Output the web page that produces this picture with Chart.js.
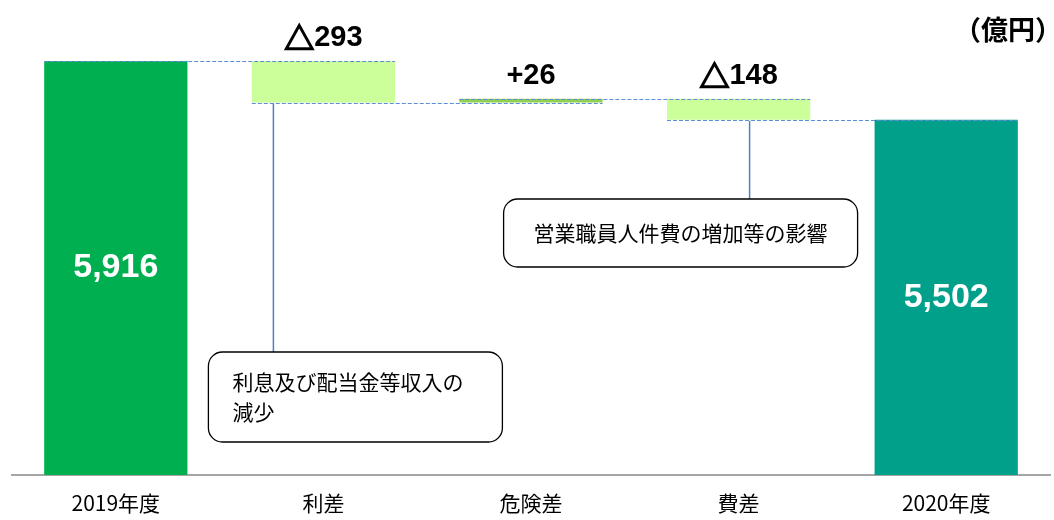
<!DOCTYPE html>
<html>
<head>
<meta charset="utf-8">
<script src="https://cdn.jsdelivr.net/npm/chart.js@4/dist/chart.umd.min.js"></script>
<style>
  html, body { margin: 0; padding: 0; background: #fff; }
  #wrap { width: 1054px; height: 520px; }
</style>
</head>
<body>
<div id="wrap"><canvas id="waterfall"></canvas></div>
<script>
// data (億円)
const categories = ['2019年度', '利差', '危険差', '費差', '2020年度'];
const values = [5916, -293, 26, -148, 5502];
const kinds = ['total', 'delta', 'delta', 'delta', 'total'];
const valueLabels = ['5,916', '△293', '+26', '△148', '5,502'];
const barColors = ['#00B050', '#CCFF99', '#92D050', '#CCFF99', '#00A08A'];
const axisMin = 3000;
const axisMax = 6000;

const notes = [
  { bar: 1, lines: ['利息及び配当金等収入の', '減少'], lead: -50, dx: 32, top: 352, w: 294, h: 90, align: 'left' },
  { bar: 3, lines: ['営業職員人件費の増加等の影響'], lead: 11, dx: -58, top: 199, w: 354, h: 68, align: 'center' }
];

// build floating bars
let running = 0;
const ranges = [];
const levels = [];
for (let i = 0; i < values.length; i++) {
  if (kinds[i] == 'total') {
    ranges.push([axisMin, values[i]]);
    running = values[i];
  } else {
    ranges.push([running, running + values[i]]);
    running = running + values[i];
  }
  levels.push(running);
}

const cjk = '"Noto Sans CJK JP", "Noto Sans", sans-serif';

function roundRect(ctx, x, y, w, h, r) {
  ctx.beginPath();
  ctx.moveTo(x + r, y);
  ctx.lineTo(x + w - r, y);
  ctx.arcTo(x + w, y, x + w, y + r, r);
  ctx.lineTo(x + w, y + h - r);
  ctx.arcTo(x + w, y + h, x + w - r, y + h, r);
  ctx.lineTo(x + r, y + h);
  ctx.arcTo(x, y + h, x, y + h - r, r);
  ctx.lineTo(x, y + r);
  ctx.arcTo(x, y, x + r, y, r);
  ctx.closePath();
}

// label with a heavier △ drawn in the CJK font
function deltaLabel(ctx, text, cx, cy) {
  const numFont = 'bold 29px "Liberation Sans", sans-serif';
  const triFont = 'bold 30px ' + cjk;
  let head = '', rest = text;
  if (text.charAt(0) == '△') { head = '△'; rest = text.slice(1); }
  ctx.font = triFont;
  const wHead = head ? ctx.measureText(head).width : 0;
  ctx.font = numFont;
  const wRest = ctx.measureText(rest).width;
  let x = cx - (wHead + wRest) / 2;
  ctx.textAlign = 'left';
  ctx.textBaseline = 'middle';
  if (head) {
    ctx.font = triFont;
    ctx.lineWidth = 1.6;
    ctx.strokeStyle = '#000000';
    ctx.fillText(head, x, cy);
    ctx.strokeText(head, x, cy);
    x += wHead;
  }
  ctx.font = numFont;
  ctx.fillText(rest, x, cy);
}

const extras = {
  id: 'extras',
  afterDatasetsDraw(chart) {
    const ctx = chart.ctx;
    const yS = chart.scales.y;
    const bars = chart.getDatasetMeta(0).data;
    ctx.save();

    // dashed connectors
    ctx.strokeStyle = '#5B8FD6';
    ctx.lineWidth = 1;
    ctx.setLineDash([4, 2]);
    for (let i = 0; i < bars.length - 1; i++) {
      const y = Math.round(yS.getPixelForValue(levels[i])) + 0.5;
      const a = bars[i], b = bars[i + 1];
      ctx.beginPath();
      ctx.moveTo(a.x - a.width / 2, y);
      ctx.lineTo(b.x + b.width / 2, y);
      ctx.stroke();
    }
    ctx.setLineDash([]);

    // value labels
    for (let i = 0; i < bars.length; i++) {
      const b = bars[i];
      if (kinds[i] == 'total') {
        ctx.fillStyle = '#ffffff';
        ctx.font = 'bold 34px "Liberation Sans", Arial, sans-serif';
        ctx.textAlign = 'center';
        ctx.textBaseline = 'middle';
        const mid = (yS.getPixelForValue(ranges[i][0]) + yS.getPixelForValue(ranges[i][1])) / 2;
        ctx.fillText(valueLabels[i], b.x, mid);
      } else {
        ctx.fillStyle = '#000000';
        const top = yS.getPixelForValue(Math.max(ranges[i][0], ranges[i][1]));
        deltaLabel(ctx, valueLabels[i], b.x, top - 23);
      }
    }

    // callouts
    notes.forEach(n => {
      const b = bars[n.bar];
      const low = yS.getPixelForValue(Math.min(ranges[n.bar][0], ranges[n.bar][1]));
      const lx = b.x + n.lead;
      ctx.strokeStyle = '#4F81BD';
      ctx.lineWidth = 1.5;
      ctx.beginPath();
      ctx.moveTo(lx, low + 1);
      ctx.lineTo(lx, n.top);
      ctx.stroke();

      const bx = b.x + n.dx - n.w / 2;
      roundRect(ctx, bx, n.top, n.w, n.h, 14);
      ctx.fillStyle = '#ffffff';
      ctx.fill();
      ctx.strokeStyle = '#000000';
      ctx.lineWidth = 1.3;
      ctx.stroke();

      ctx.fillStyle = '#000000';
      ctx.font = '21px ' + cjk;
      ctx.textBaseline = 'middle';
      if (n.align == 'left') {
        ctx.textAlign = 'left';
        n.lines.forEach((t, k) => ctx.fillText(t, bx + 24, n.top + 30 + k * 30));
      } else {
        ctx.textAlign = 'center';
        n.lines.forEach((t, k) => ctx.fillText(t, bx + n.w / 2, n.top + n.h / 2));
      }
    });

    // unit
    ctx.fillStyle = '#000000';
    ctx.font = 'bold 27px ' + cjk;
    ctx.textAlign = 'right';
    ctx.textBaseline = 'middle';
    ctx.fillText('（億円）', 1062, 30);

    ctx.restore();
  }
};

new Chart(document.getElementById('waterfall'), {
  type: 'bar',
  data: {
    labels: categories,
    datasets: [{
      data: ranges,
      backgroundColor: barColors,
      borderWidth: 0,
      barPercentage: 0.69,
      categoryPercentage: 1.0
    }]
  },
  options: {
    responsive: true,
    maintainAspectRatio: false,
    animation: false,
    layout: { padding: { top: 49, left: 12, right: 4, bottom: 0 } },
    plugins: {
      legend: { display: false },
      tooltip: { enabled: false }
    },
    scales: {
      x: {
        grid: { display: false, drawTicks: false },
        border: { color: '#A6A6A6', width: 2 },
        ticks: {
          color: '#000000',
          padding: 15,
          font: { family: cjk, size: 21 }
        },
        afterFit: (scale) => { scale.height = 45; }
      },
      y: {
        display: false,
        min: axisMin,
        max: axisMax
      }
    }
  },
  plugins: [extras]
});
</script>
</body>
</html>
